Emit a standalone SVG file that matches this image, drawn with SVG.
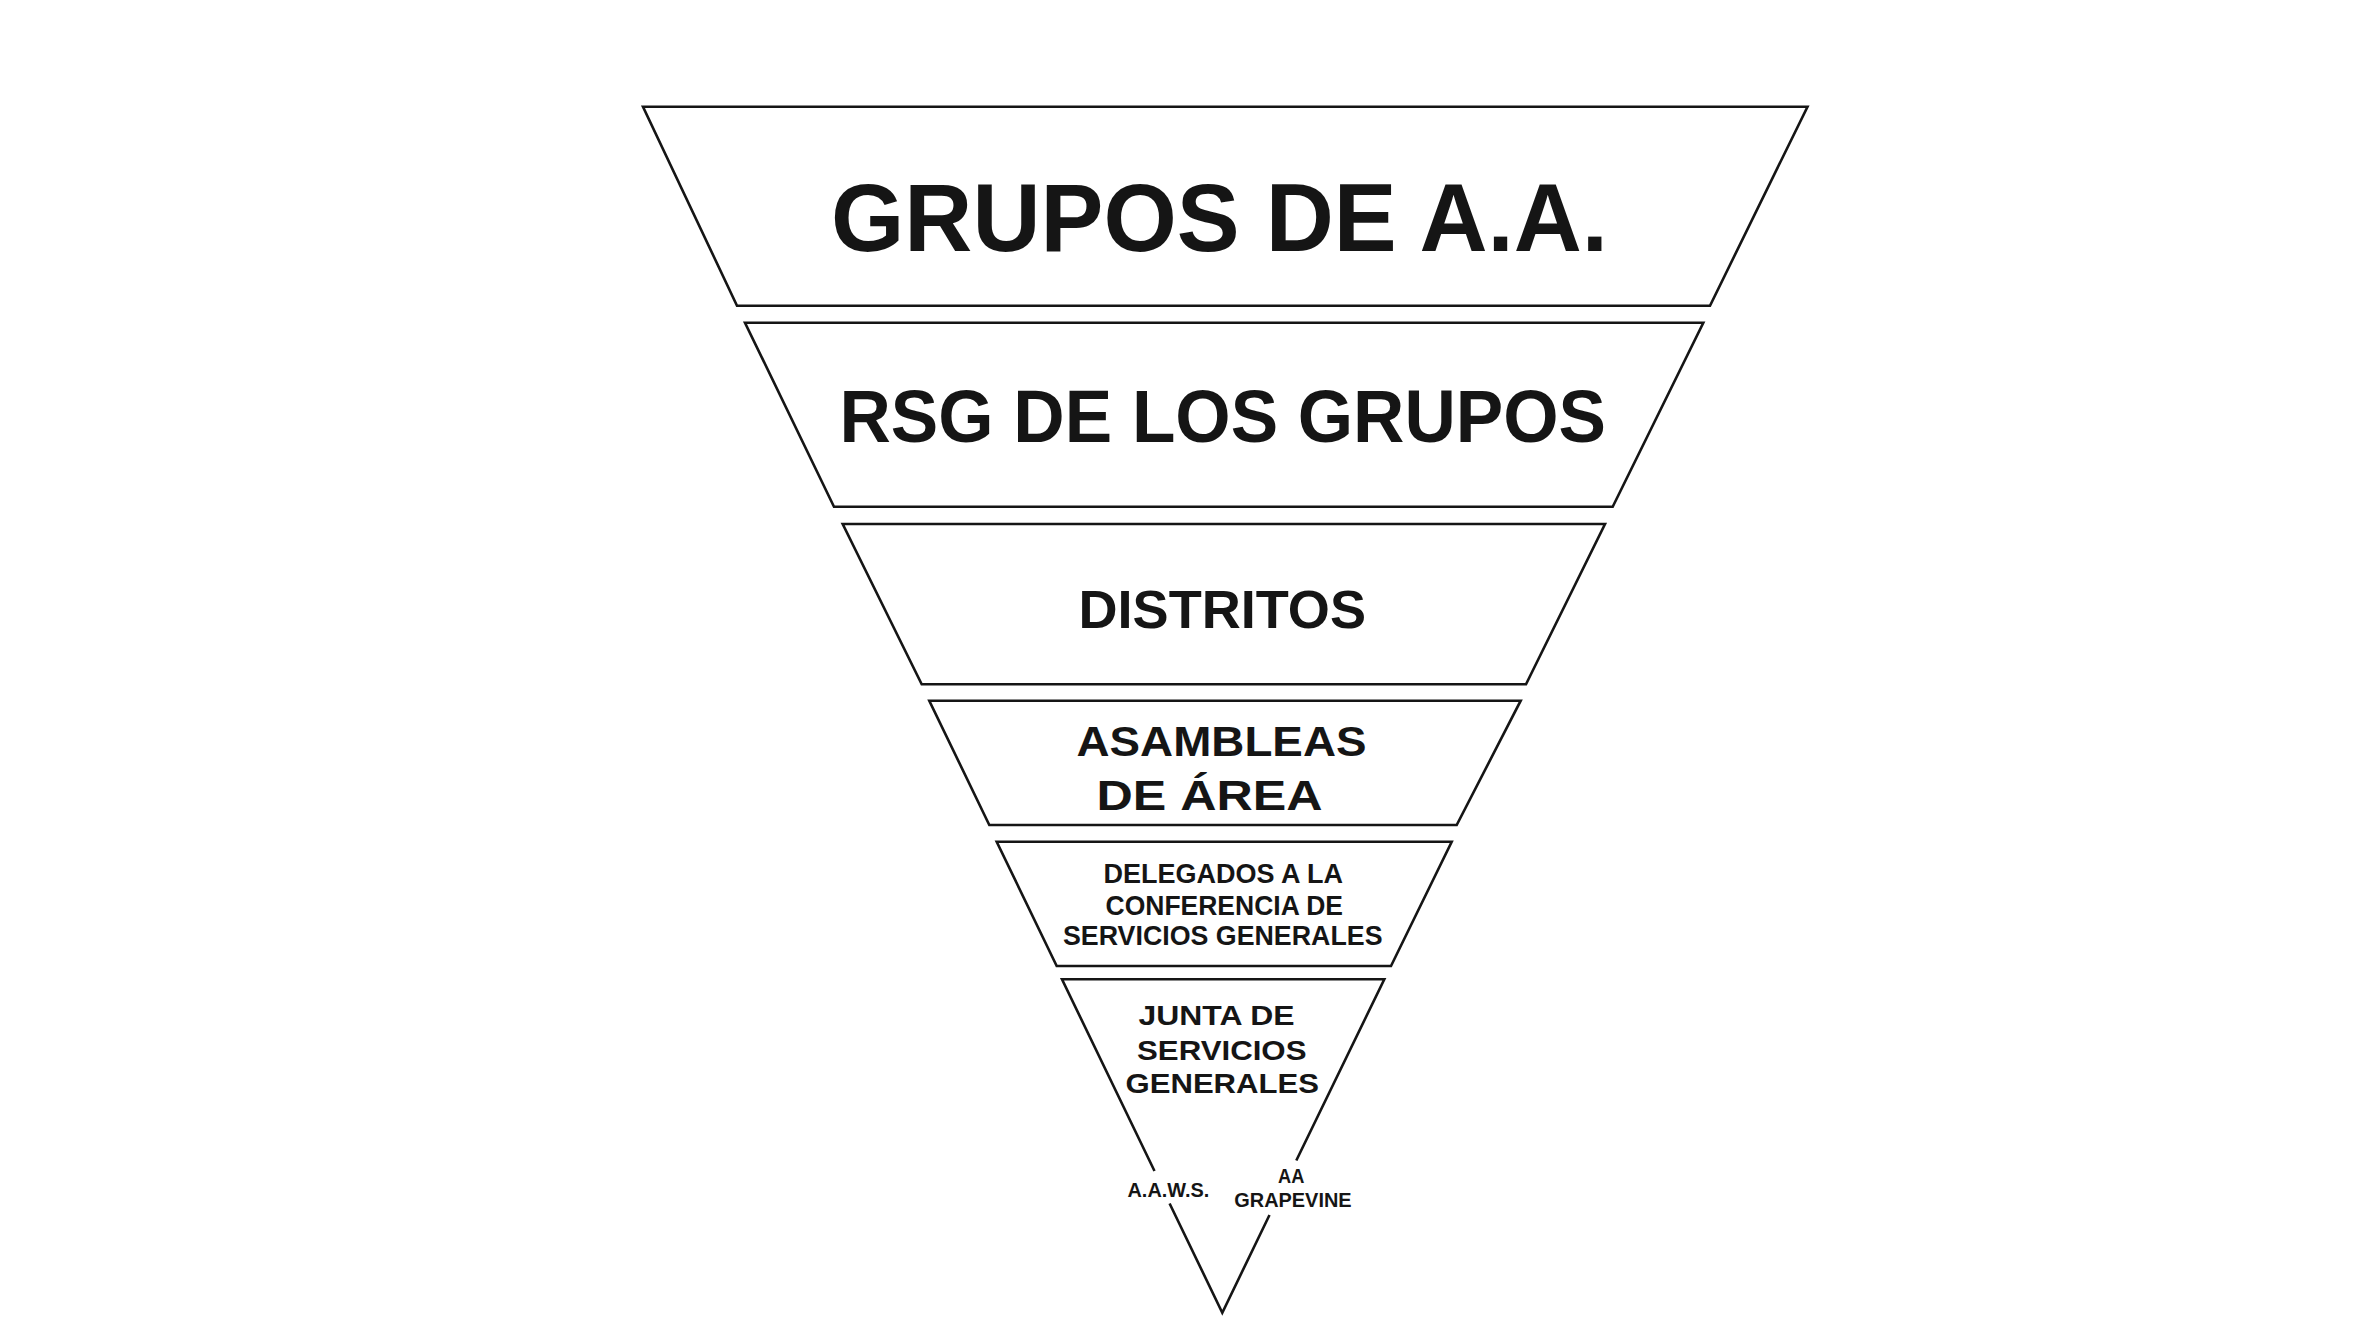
<svg xmlns="http://www.w3.org/2000/svg" width="2372" height="1333" viewBox="0 0 2372 1333">
<style>
.shape{fill:#fff;stroke:#151515;stroke-width:2.6;stroke-linejoin:miter}
.edge{fill:none;stroke:#151515;stroke-width:2.6}
.t{font-family:"Liberation Sans",Arial,Helvetica,sans-serif;font-weight:bold;fill:#151515}
</style>
<rect width="2372" height="1333" fill="#fff"/>
<g id="grupos">
<polygon class="shape" points="643,106.7 1807.5,106.7 1710,305.7 737,305.7"/>
<text class="t" x="831" y="251" font-size="97" textLength="777" lengthAdjust="spacingAndGlyphs">GRUPOS DE A.A.</text>
</g>
<g id="rsg">
<polygon class="shape" points="745,322.7 1703.3,322.7 1612.7,506.7 834,506.7"/>
<text class="t" x="839.5" y="441.7" font-size="74" textLength="766.5" lengthAdjust="spacingAndGlyphs">RSG DE LOS GRUPOS</text>
</g>
<g id="distritos">
<polygon class="shape" points="842.7,524 1605,524 1526,684.3 921.7,684.3"/>
<text class="t" x="1078.5" y="628.3" font-size="53" textLength="287.5" lengthAdjust="spacingAndGlyphs">DISTRITOS</text>
</g>
<g id="asambleas">
<polygon class="shape" points="929.3,700.7 1520.7,700.7 1456.7,825 989.3,825"/>
<text class="t" x="1076.5" y="756" font-size="43" textLength="290" lengthAdjust="spacingAndGlyphs">ASAMBLEAS</text>
<text class="t" x="1096.5" y="810" font-size="43" textLength="226" lengthAdjust="spacingAndGlyphs">DE ÁREA</text>
</g>
<g id="delegados">
<polygon class="shape" points="996.7,841.7 1451.7,841.7 1391,966 1056.7,966"/>
<text class="t" x="1103.5" y="882.7" font-size="27" textLength="239.5" lengthAdjust="spacingAndGlyphs">DELEGADOS A LA</text>
<text class="t" x="1105.5" y="915" font-size="27" textLength="237.5" lengthAdjust="spacingAndGlyphs">CONFERENCIA DE</text>
<text class="t" x="1063" y="945" font-size="27" textLength="319.5" lengthAdjust="spacingAndGlyphs">SERVICIOS GENERALES</text>
</g>
<g id="junta">
<path class="edge" d="M1154.5,1171 L1062,979.3 L1384.3,979.3 L1296.3,1160.5"/>
<path class="edge" d="M1169.6,1203.5 L1222.3,1312.7 L1269.5,1215"/>
<text class="t" x="1138.5" y="1025" font-size="28" textLength="156" lengthAdjust="spacingAndGlyphs">JUNTA DE</text>
<text class="t" x="1137" y="1060" font-size="28" textLength="169.5" lengthAdjust="spacingAndGlyphs">SERVICIOS</text>
<text class="t" x="1125.5" y="1093.3" font-size="28" textLength="193.5" lengthAdjust="spacingAndGlyphs">GENERALES</text>
</g>
<g id="aaws">
<text class="t" x="1127.5" y="1196.7" font-size="21" textLength="81.8" lengthAdjust="spacingAndGlyphs">A.A.W.S.</text>
</g>
<g id="grapevine">
<text class="t" x="1278" y="1182.7" font-size="20" textLength="26.3" lengthAdjust="spacingAndGlyphs">AA</text>
<text class="t" x="1234.3" y="1207.3" font-size="20" textLength="117.3" lengthAdjust="spacingAndGlyphs">GRAPEVINE</text>
</g>
<g id="connectors"></g>
</svg>
